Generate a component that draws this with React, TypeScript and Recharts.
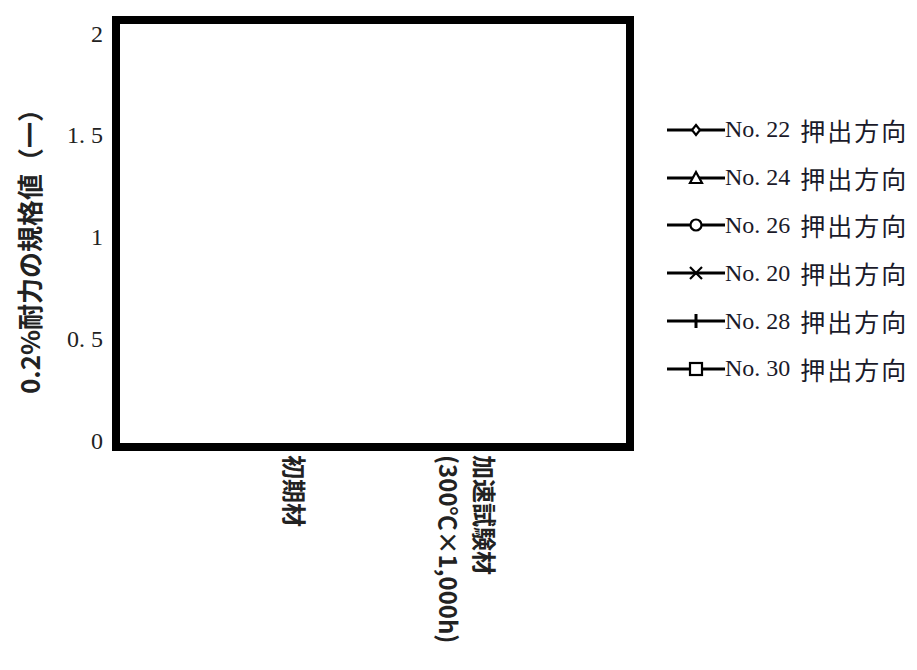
import { LineChart, Line, XAxis, YAxis, Legend } from "recharts";

// カテゴリ（"|" で改行）
const categories = ["初期材", "加速試験材|(300℃×1,000h)"];
const yTicks = [0, 0.5, 1, 1.5, 2];
const seriesNos = ["No. 22", "No. 24", "No. 26", "No. 20", "No. 28", "No. 30"];
const seriesDir = "押出方向";
const seriesMarkers = ["diamond", "triangle", "circle", "cross", "plus", "square"];

// 図にはプロットが描かれていない（値なし）
const no22: (number | null)[] = [null, null];
const no24: (number | null)[] = [null, null];
const no26: (number | null)[] = [null, null];
const no20: (number | null)[] = [null, null];
const no28: (number | null)[] = [null, null];
const no30: (number | null)[] = [null, null];
const seriesValues = [no22, no24, no26, no20, no28, no30];

const data = categories.map((cat, i) => {
  const row: Record<string, string | number | null> = { cat };
  seriesValues.forEach((vals, s) => {
    row["s" + s] = vals[i];
  });
  return row;
});

const CJK = '"Noto Sans CJK JP", sans-serif';
const SERIF = '"Liberation Serif", "Noto Sans CJK JP", serif';
const frameLine = { stroke: "#000", strokeWidth: 8, strokeLinecap: "square" as const };

function Marker({ type }: { type: string }) {
  const cx = 29;
  const cy = 12;
  const common = { fill: "#fff", stroke: "#000", strokeWidth: 2.2 };
  switch (type) {
    case "diamond":
      return <polygon points={`${cx},${cy - 5} ${cx + 4},${cy} ${cx},${cy + 5} ${cx - 4},${cy}`} {...common} />;
    case "triangle":
      return <polygon points={`${cx},${cy - 6} ${cx + 6},${cy + 5} ${cx - 6},${cy + 5}`} {...common} />;
    case "circle":
      return <circle cx={cx} cy={cy} r={5.5} {...common} />;
    case "cross":
      return (
        <g stroke="#000" strokeWidth={2.2}>
          <line x1={cx - 6} y1={cy - 6} x2={cx + 6} y2={cy + 6} />
          <line x1={cx - 6} y1={cy + 6} x2={cx + 6} y2={cy - 6} />
        </g>
      );
    case "plus":
      return <line x1={cx} y1={cy - 7} x2={cx} y2={cy + 7} stroke="#000" strokeWidth={3} />;
    default:
      return <rect x={cx - 6} y={cy - 6} width={12} height={12} {...common} />;
  }
}

function LegendContent() {
  return (
    <div>
      {seriesNos.map((no, i) => (
        <div key={no} style={{ display: "flex", alignItems: "center", height: 47.8 }}>
          <svg width={58} height={24} style={{ display: "block" }}>
            <line x1={0} y1={12} x2={58} y2={12} stroke="#000" strokeWidth={3} />
            <Marker type={seriesMarkers[i]} />
          </svg>
          <span style={{ fontFamily: SERIF, fontSize: 24, color: "#1a1a2a", whiteSpace: "nowrap" }}>{no}</span>
          <span
            style={{
              fontFamily: CJK,
              fontSize: 25,
              letterSpacing: 2,
              marginLeft: 10,
              color: "#1a1a2a",
              whiteSpace: "nowrap",
            }}
          >
            {seriesDir}
          </span>
        </div>
      ))}
    </div>
  );
}

function CategoryTick(props: any) {
  const { x, y, payload } = props;
  const lines = String(payload.value).split("|");
  const step = 36;
  return (
    <g transform={`translate(${x},${y})`}>
      <text transform="rotate(90)" fontFamily={CJK} fontWeight="bold" fontSize={24} fill="#222">
        {lines.map((ln, i) => (
          <tspan key={i} x={0} y={(i - (lines.length - 1) / 2) * step} dy="0.35em">
            {ln}
          </tspan>
        ))}
      </text>
    </g>
  );
}

const fmtY = (v: number) => (Number.isInteger(v) ? String(v) : v.toFixed(1).replace(".", ". "));

export default function App() {
  return (
    <LineChart width={901} height={654} data={data} margin={{ top: 11, right: 278, bottom: 15, left: 0 }}>
      <XAxis
        dataKey="cat"
        height={200}
        padding={{ left: 177, right: 165 }}
        axisLine={frameLine}
        tickLine={false}
        tickSize={0}
        tickMargin={8}
        interval={0}
        tick={<CategoryTick />}
      />
      <XAxis
        xAxisId="top"
        orientation="top"
        dataKey="cat"
        height={1}
        padding={{ left: 177, right: 165 }}
        axisLine={frameLine}
        tickLine={false}
        tick={false}
      />
      <YAxis
        width={108}
        type="number"
        domain={[-0.034, 2.064]}
        ticks={yTicks}
        allowDataOverflow
        axisLine={frameLine}
        tickLine={false}
        tickSize={0}
        tickMargin={13}
        tickFormatter={fmtY}
        tick={{ fontFamily: SERIF, fontSize: 24, fill: "#222" }}
        label={() => (
          <text
            x={20}
            y={237}
            transform="rotate(-90 20 237)"
            textAnchor="middle"
            dominantBaseline="central"
            fontFamily={CJK}
            fontWeight="bold"
            fontSize={26}
            fill="#222"
          >
            0.2%耐力の規格値（一）
          </text>
        )}
      />
      <YAxis
        yAxisId="right"
        orientation="right"
        width={1}
        type="number"
        domain={[-0.034, 2.064]}
        allowDataOverflow
        axisLine={frameLine}
        tickLine={false}
        tick={false}
      />
      {seriesNos.map((no, i) => (
        <Line
          key={no}
          dataKey={"s" + i}
          name={`${no} ${seriesDir}`}
          stroke="#000"
          strokeWidth={3}
          dot={false}
          isAnimationActive={false}
        />
      ))}
      <Legend
        layout="vertical"
        align="center"
        verticalAlign="middle"
        content={<LegendContent />}
        wrapperStyle={{ left: 659, top: 98, right: "auto", bottom: "auto", width: 250 }}
      />
    </LineChart>
  );
}
